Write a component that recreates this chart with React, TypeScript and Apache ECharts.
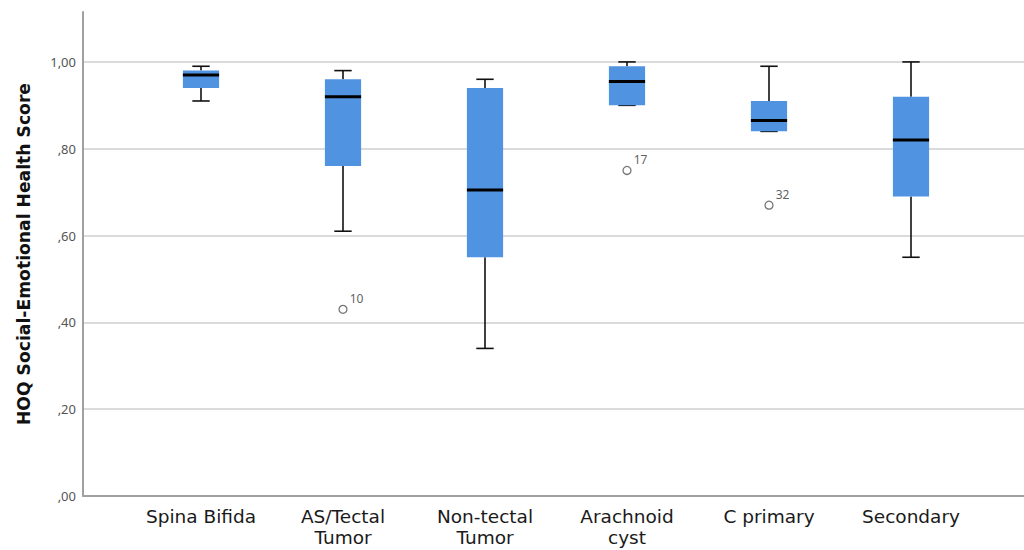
import React, { useEffect, useRef } from "react";
import * as echarts from "echarts";

const categories = [
  "Spina Bifida",
  "AS/Tectal\nTumor",
  "Non-tectal\nTumor",
  "Arachnoid\ncyst",
  "C primary",
  "Secondary",
];
const whiskerLow = [0.91, 0.61, 0.34, 0.9, 0.84, 0.55];
const quartile1 = [0.94, 0.76, 0.55, 0.9, 0.84, 0.69];
const medians = [0.97, 0.92, 0.705, 0.955, 0.865, 0.82];
const quartile3 = [0.98, 0.96, 0.94, 0.99, 0.91, 0.92];
const whiskerHigh = [0.99, 0.98, 0.96, 1.0, 0.99, 1.0];

const outlierCategory = [1, 3, 4];
const outlierValues = [0.43, 0.75, 0.67];
const outlierIds = ["10", "17", "32"];

const yTicks = [0, 0.2, 0.4, 0.6, 0.8, 1.0];
const yTickLabels = [",00", ",20", ",40", ",60", ",80", "1,00"];

const FONT = "'Noto Sans', 'Open Sans', sans-serif";
const LABEL_FONT = "'DejaVu Sans', 'Noto Sans', sans-serif";

export default function App() {
  const ref = useRef<HTMLDivElement>(null);

  useEffect(() => {
    if (!ref.current) return;
    const chart = echarts.init(ref.current, null, { renderer: "svg" });

    const boxData = categories.map((_, i) => [
      i,
      whiskerLow[i],
      quartile1[i],
      medians[i],
      quartile3[i],
      whiskerHigh[i],
    ]);
    const outlierData = outlierCategory.map((c, i) => ({
      value: [c, outlierValues[i]],
      name: outlierIds[i],
    }));

    const yMax = 1.115;

    const option: any = {
      animation: false,
      grid: [
        { left: 83, right: 0, top: 12, bottom: 54, containLabel: false },
        { left: 130, right: 42, top: 12, bottom: 54, containLabel: false },
      ],
      xAxis: [
        {
          gridIndex: 0,
          type: "value",
          min: 0,
          max: 1,
          axisLine: { show: true, lineStyle: { color: "#a0a0a0", width: 2 } },
          axisTick: { show: false },
          axisLabel: { show: false },
          splitLine: { show: false },
        },
        {
          gridIndex: 1,
          type: "category",
          data: categories,
          axisLine: { show: false },
          axisTick: { show: false },
          splitLine: { show: false },
          axisLabel: {
            interval: 0,
            margin: 10,
            color: "#1a1a1a",
            fontSize: 18.5,
            fontFamily: LABEL_FONT,
            lineHeight: 21,
          },
        },
      ],
      yAxis: [
        {
          gridIndex: 0,
          type: "value",
          min: 0,
          max: yMax,
          interval: 0.2,
          name: "HOQ Social-Emotional Health Score",
          nameLocation: "middle",
          nameGap: 51,
          nameTextStyle: {
            fontSize: 17.2,
            fontWeight: "bold",
            color: "#111",
            fontFamily: LABEL_FONT,
          },
          axisLine: { show: true, lineStyle: { color: "#a0a0a0", width: 2 } },
          axisTick: { show: false },
          axisLabel: {
            margin: 7,
            color: "#555",
            fontSize: 13,
            fontFamily: FONT,
            showMaxLabel: false,
            formatter: (v: number) => {
              const idx = yTicks.findIndex((t) => Math.abs(t - v) < 1e-6);
              return idx >= 0 ? yTickLabels[idx] : "";
            },
          },
          splitLine: {
            show: true,
            showMaxLine: false,
            lineStyle: { color: "#cfcfcf", width: 1.5 },
          },
        },
        {
          gridIndex: 1,
          type: "value",
          min: 0,
          max: yMax,
          show: false,
          splitLine: { show: false },
        },
      ],
      series: [
        {
          type: "custom",
          xAxisIndex: 1,
          yAxisIndex: 1,
          data: boxData,
          encode: { x: 0, y: [1, 2, 3, 4, 5] },
          renderItem: (params: any, api: any) => {
            const idx = api.value(0);
            const pLow = api.coord([idx, api.value(1)]);
            const pQ1 = api.coord([idx, api.value(2)]);
            const pMed = api.coord([idx, api.value(3)]);
            const pQ3 = api.coord([idx, api.value(4)]);
            const pHigh = api.coord([idx, api.value(5)]);
            const band = api.size([1, 0])[0];
            const bw = band * 0.255;
            const cap = bw * 0.48;
            const cx = pMed[0];
            const lineStyle = { stroke: "#111", lineWidth: 1.6 };
            return {
              type: "group",
              children: [
                {
                  type: "line",
                  shape: { x1: cx, y1: pHigh[1], x2: cx, y2: pQ3[1] },
                  style: lineStyle,
                },
                {
                  type: "line",
                  shape: { x1: cx, y1: pQ1[1], x2: cx, y2: pLow[1] },
                  style: lineStyle,
                },
                {
                  type: "line",
                  shape: { x1: cx - cap / 2, y1: pHigh[1], x2: cx + cap / 2, y2: pHigh[1] },
                  style: lineStyle,
                },
                {
                  type: "line",
                  shape: { x1: cx - cap / 2, y1: pLow[1], x2: cx + cap / 2, y2: pLow[1] },
                  style: lineStyle,
                },
                {
                  type: "rect",
                  shape: {
                    x: cx - bw / 2,
                    y: pQ3[1],
                    width: bw,
                    height: pQ1[1] - pQ3[1],
                  },
                  style: { fill: "#5094e1" },
                },
                {
                  type: "line",
                  shape: { x1: cx - bw / 2, y1: pMed[1], x2: cx + bw / 2, y2: pMed[1] },
                  style: { stroke: "#000", lineWidth: 3 },
                },
              ],
            };
          },
        },
        {
          type: "scatter",
          xAxisIndex: 1,
          yAxisIndex: 1,
          data: outlierData,
          symbol: "circle",
          symbolSize: 8,
          itemStyle: { color: "#fff", borderColor: "#555", borderWidth: 1.3 },
          label: {
            show: true,
            position: "right",
            distance: 2,
            offset: [0, -11],
            formatter: (p: any) => p.name,
            color: "#333",
            fontSize: 12,
            fontFamily: FONT,
          },
        },
      ],
    };

    chart.setOption(option);
    return () => chart.dispose();
  }, []);

  return (
    <div
      ref={ref}
      style={{ position: "fixed", left: 0, top: 0, width: 1024, height: 550, background: "#fff" }}
    />
  );
}
